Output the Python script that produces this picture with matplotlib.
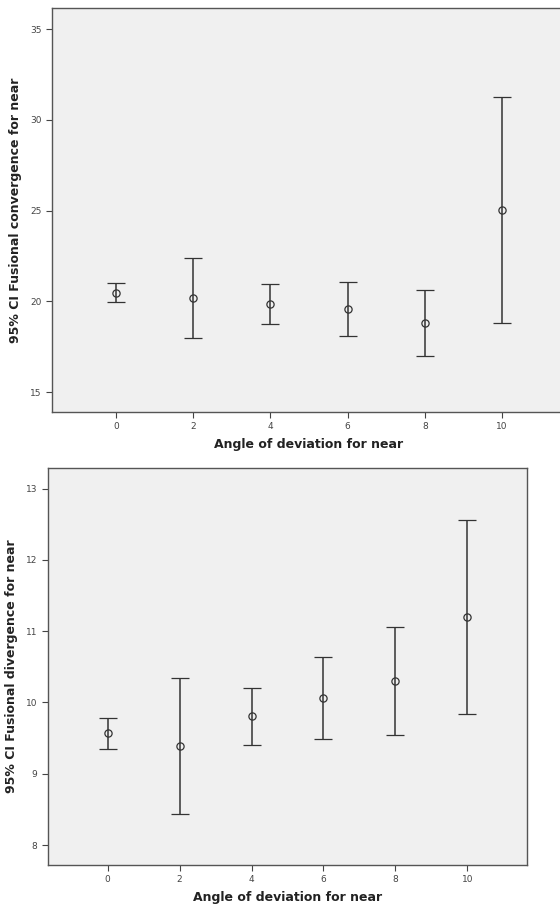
import matplotlib

matplotlib.use("Agg")
import matplotlib.pyplot as plt

angles = [0, 2, 4, 6, 8, 10]

conv_mean = [20.48, 20.18, 19.85, 19.58, 18.80, 25.01]
conv_low = [19.96, 17.98, 18.77, 18.09, 16.96, 18.80]
conv_high = [21.01, 22.39, 20.94, 21.05, 20.62, 31.24]

div_mean = [9.57, 9.39, 9.81, 10.07, 10.30, 11.20]
div_low = [9.35, 8.43, 9.41, 9.49, 9.54, 9.84]
div_high = [9.78, 10.35, 10.21, 10.64, 11.06, 12.56]

conv_ticks = [15, 20, 25, 30, 35]
div_ticks = [8, 9, 10, 11, 12, 13]

W, H = 560, 908


def panel(ax, mean, low, high, yticks, ylim, ylabel):
    err = [[m - l for m, l in zip(mean, low)], [h - m for m, h in zip(mean, high)]]
    ax.errorbar(angles, mean, yerr=err, fmt="o", mfc="none", mec="#333333",
                ms=5.2, mew=0.9, ecolor="#333333", elinewidth=1.1,
                capsize=6.8, capthick=1.1)
    ax.set_facecolor("#f0f0f0")
    ax.set_xlim(-1.66, 11.66)
    ax.set_ylim(*ylim)
    ax.set_xticks(angles)
    ax.set_yticks(yticks)
    ax.tick_params(labelsize=6.5, labelcolor="#444444", color="#444444",
                   length=4, width=0.8)
    for s in ax.spines.values():
        s.set_color("#555555")
        s.set_linewidth(1.0)
    ax.set_xlabel("Angle of deviation for near", fontsize=9, fontweight="bold",
                  color="#222222", labelpad=5)
    ax.set_ylabel(ylabel, fontsize=9, fontweight="bold", color="#222222",
                  labelpad=6)


fig = plt.figure(figsize=(W / 100, H / 100), dpi=100)

ax1 = fig.add_axes([52 / W, 1 - 412 / H, (566 - 52) / W, (412 - 8) / H])
panel(ax1, conv_mean, conv_low, conv_high, conv_ticks, (13.9, 36.16),
      "95% CI Fusional convergence for near")

ax2 = fig.add_axes([48 / W, 1 - 865 / H, (527 - 48) / W, (865 - 468) / H])
panel(ax2, div_mean, div_low, div_high, div_ticks, (7.72, 13.29),
      "95% CI Fusional divergence for near")

fig.savefig("out.png", dpi=100)
